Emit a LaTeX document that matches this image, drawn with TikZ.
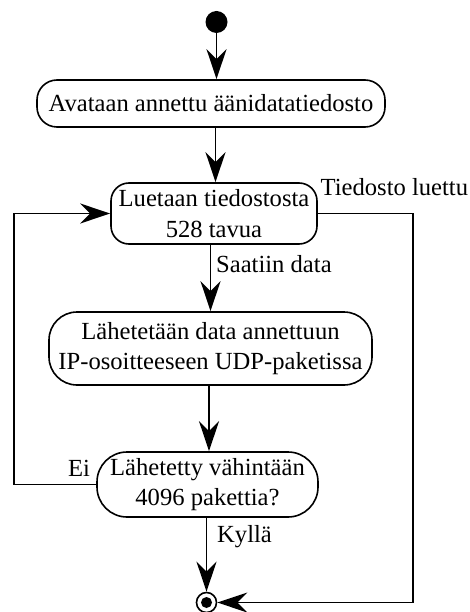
\documentclass[tikz,border=0pt]{standalone}
\usepackage{fontspec}
\setmainfont{Liberation Serif}
\usetikzlibrary{arrows.meta}
\begin{document}
\begin{tikzpicture}[x=1pt,y=-1pt,
  every node/.style={font=\fontsize{24.6}{30.5}\selectfont},
  act/.style={draw, line width=1.6pt, inner sep=0pt, align=center},
  lbl/.style={inner sep=0pt, anchor=base west},
  arr/.style={line width=1.6pt, -{Stealth[length=30pt,width=20pt,inset=10pt]}}]
\useasboundingbox (0,0) rectangle (469,612);
\node[circle, fill, minimum size=22pt, inner sep=0pt] (start) at (216.5,22) {};
\node[act, rounded corners=20pt, minimum width=348pt, minimum height=47pt] (b1) at (211,103.5) {Avataan annettu äänidatatiedosto};
\node[act, rounded corners=18pt, minimum width=206pt, minimum height=61pt] (b2) at (214,213.5) {Luetaan tiedostosta\\528 tavua};
\node[act, rounded corners=28pt, minimum width=323pt, minimum height=73pt] (b3) at (210.5,348.5) {Lähetetään data annettuun\\IP-osoitteeseen UDP-paketissa};
\node[act, rounded corners=30pt, minimum width=221pt, minimum height=65pt] (dec) at (207.5,484.5) {Lähetetty vähintään\\4096 pakettia?};
\node[circle, draw, line width=1.6pt, minimum size=20pt, inner sep=0pt] (end) at (206.5,602.5) {};
\fill (end.center) circle (5.5pt);
\coordinate (rtop) at (413,213.5);
\coordinate (rbot) at (413,602.5);
\coordinate (ltop) at (14,213.5);
\coordinate (lbot) at (14,484.5);
\draw[arr] (start.south) -- (start.south |- b1.north);
\draw[arr] (b1.south -| 215.5,0) -- (b2.north -| 215.5,0);
\draw[arr] (b2.south -| b3.north) -- (b3.north);
\draw[arr] (b3.south -| 209,0) -- (dec.north -| 209,0);
\draw[arr] (dec.south -| end.north) -- (end.north);
\draw[arr] (b2.east) -- (rtop) -- (rbot) -- (end.east);
\draw[arr] (dec.west) -- (lbot) -- (ltop) -- (b2.west);
\node[lbl] (l1) at (320.5,196) {Tiedosto luettu};
\node[lbl] (l2) at (216,272) {Saatiin data};
\node[lbl] (l3) at (68,476) {Ei};
\node[lbl] (l4) at (217,542) {Kyllä};
\end{tikzpicture}
\end{document}
